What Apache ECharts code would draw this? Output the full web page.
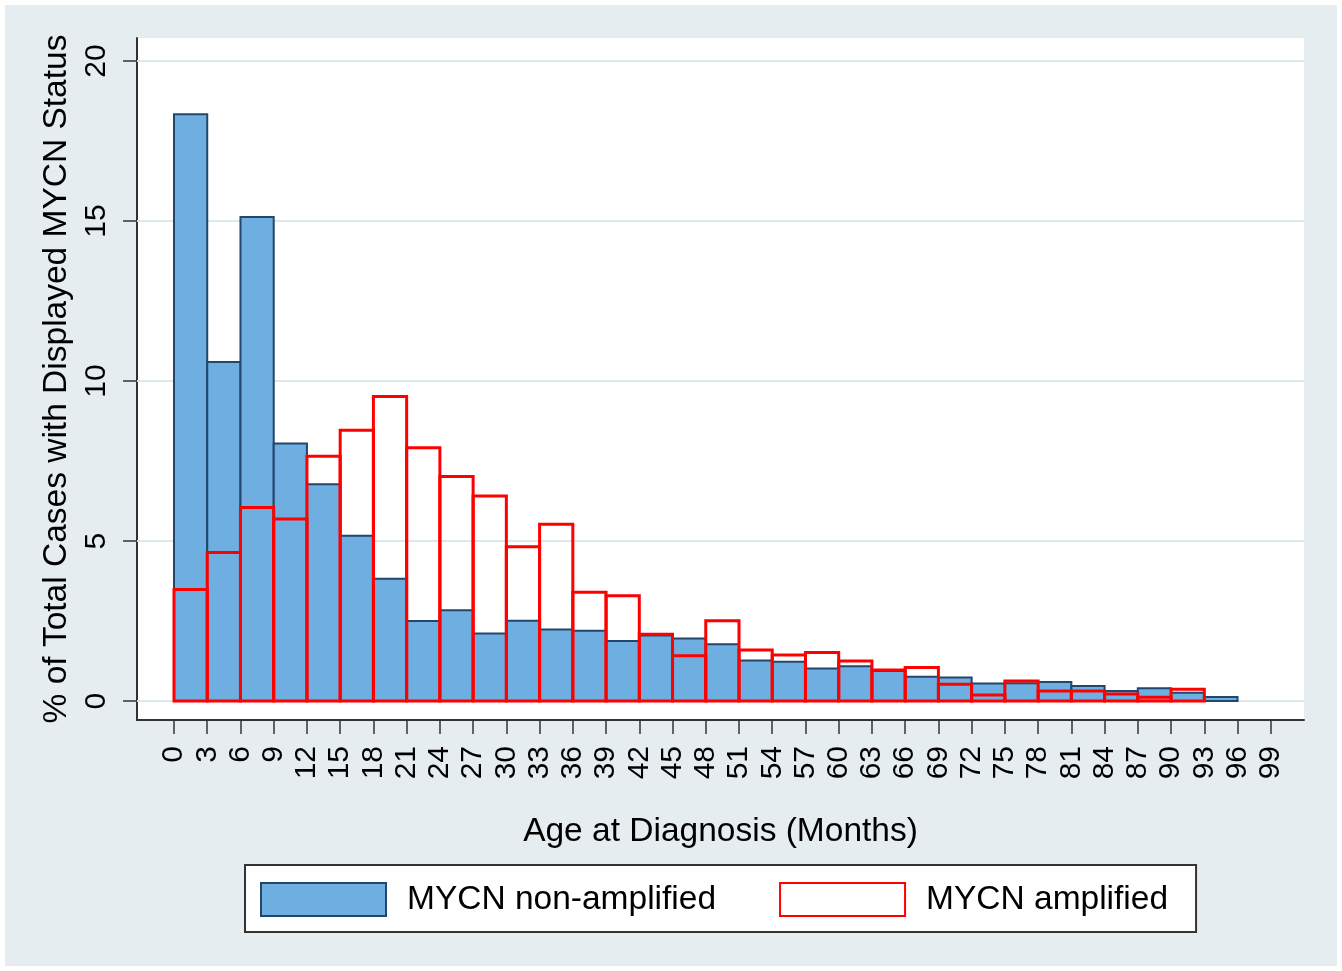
<!DOCTYPE html>
<html>
<head>
<meta charset="utf-8">
<style>
  html, body { margin: 0; padding: 0; background: #fff; }
  #main { width: 1342px; height: 971px; }
</style>
<script src="https://cdn.jsdelivr.net/npm/echarts@6.0.0/dist/echarts.min.js"></script>
</head>
<body>
<div id="main"></div>
<script>
// bin starts (months), each bin is 3 months wide
var binStarts = [0, 3, 6, 9, 12, 15, 18, 21, 24, 27, 30, 33, 36, 39, 42, 45,
  48, 51, 54, 57, 60, 63, 66, 69, 72, 75, 78, 81, 84, 87, 90, 93];
// % of cases, MYCN non-amplified
var nonAmplified = [18.34, 10.60, 15.13, 8.05, 6.78, 5.17, 3.82, 2.50, 2.84, 2.11, 2.51, 2.24,
  2.20, 1.88, 2.05, 1.96, 1.78, 1.27, 1.23, 1.02, 1.09, 0.94, 0.76, 0.74, 0.55, 0.56, 0.60,
  0.47, 0.32, 0.40, 0.26, 0.13];
// % of cases, MYCN amplified (no cases in the last bin)
var amplified = [3.49, 4.64, 6.05, 5.69, 7.65, 8.46, 9.52, 7.92, 7.02, 6.41, 4.82, 5.53,
  3.40, 3.29, 2.09, 1.42, 2.51, 1.60, 1.44, 1.52, 1.25, 0.97, 1.05, 0.53, 0.19, 0.63, 0.32,
  0.32, 0.22, 0.12, 0.37];
var xTicks = [0, 3, 6, 9, 12, 15, 18, 21, 24, 27, 30, 33, 36, 39, 42, 45, 48, 51, 54, 57,
  60, 63, 66, 69, 72, 75, 78, 81, 84, 87, 90, 93, 96, 99];
var yTicks = [0, 5, 10, 15, 20];
var binWidth = 3;

var font = 'Liberation Sans, Arial, Helvetica, sans-serif';
var bgColor = '#e5edf0';
var gridColor = '#dde8ee';

function toPairs(vals) {
  var out = [];
  for (var i = 0; i < vals.length; i++) {
    out.push([binStarts[i], vals[i]]);
  }
  return out;
}

// histogram bar: rectangle from [start, 0] to [start + width, value]
function barRenderer(style) {
  return function (params, api) {
    var x0 = api.value(0);
    var p0 = api.coord([x0, 0]);
    var p1 = api.coord([x0 + binWidth, api.value(1)]);
    return {
      type: 'rect',
      shape: { x: p0[0], y: p1[1], width: p1[0] - p0[0], height: p0[1] - p1[1] },
      style: style
    };
  };
}

var chart = echarts.init(document.getElementById('main'));

var option = {
  backgroundColor: '#fff',
  animation: false,
  // outer light blue-grey panel
  graphic: [{
    type: 'rect',
    z: -10,
    silent: true,
    shape: { x: 5, y: 5, width: 1332, height: 961 },
    style: { fill: bgColor }
  }],
  grid: {
    left: 137,
    right: 38,
    top: 38,
    bottom: 251,
    show: true,
    backgroundColor: '#fff',
    borderWidth: 0
  },
  legend: {
    left: 245,
    top: 865,
    orient: 'horizontal',
    backgroundColor: '#fff',
    borderColor: '#333',
    borderWidth: 2,
    borderRadius: 0,
    padding: [17, 28, 15, 15],
    itemWidth: 125,
    itemHeight: 33,
    itemGap: 63,
    textStyle: {
      fontFamily: font,
      fontSize: 33.5,
      color: '#000',
      lineHeight: 33,
      padding: [0, 0, 0, 16]
    },
    data: [
      { name: 'MYCN non-amplified', icon: 'rect',
        itemStyle: { color: '#6eaee0', borderColor: '#23476b', borderWidth: 2 } },
      { name: 'MYCN amplified', icon: 'rect',
        itemStyle: { color: '#fff', borderColor: '#ff0000', borderWidth: 2 } }
    ]
  },
  xAxis: {
    type: 'value',
    min: -3.34,
    max: 102,
    name: 'Age at Diagnosis (Months)',
    nameLocation: 'middle',
    nameGap: 95,
    nameTextStyle: { fontFamily: font, fontSize: 33.5, color: '#000' },
    axisLine: { show: true, onZero: false, lineStyle: { color: '#333', width: 2 } },
    axisTick: { show: true, customValues: xTicks, length: 14, lineStyle: { color: '#333', width: 1.5 } },
    axisLabel: {
      customValues: xTicks,
      rotate: 90,
      margin: 26,
      fontFamily: font,
      fontSize: 30,
      color: '#000'
    },
    splitLine: { show: false }
  },
  yAxis: {
    type: 'value',
    min: -0.59,
    max: 20.72,
    name: '% of Total Cases with Displayed MYCN Status',
    nameLocation: 'middle',
    nameRotate: 90,
    nameGap: 51,
    nameTextStyle: { fontFamily: font, fontSize: 33.5, color: '#000' },
    axisLine: { show: true, onZero: false, lineStyle: { color: '#333', width: 2 } },
    axisTick: { show: true, customValues: yTicks, length: 14, lineStyle: { color: '#333', width: 1.5 } },
    axisLabel: {
      customValues: yTicks,
      rotate: 90,
      margin: 25,
      fontFamily: font,
      fontSize: 30,
      color: '#000'
    },
    splitLine: { show: false }
  },
  series: [
    {
      // horizontal grid lines at the y ticks, kept under the bars
      name: 'grid',
      type: 'line',
      data: [],
      z: 1,
      silent: true,
      markLine: {
        z: 1,
        silent: true,
        symbol: 'none',
        label: { show: false },
        lineStyle: { color: gridColor, width: 2, type: 'solid' },
        data: yTicks.map(function (v) { return { yAxis: v }; })
      }
    },
    {
      name: 'MYCN non-amplified',
      type: 'custom',
      z: 2,
      renderItem: barRenderer({ fill: '#6eaee0', stroke: '#23476b', lineWidth: 2 }),
      encode: { x: 0, y: 1 },
      data: toPairs(nonAmplified)
    },
    {
      name: 'MYCN amplified',
      type: 'custom',
      z: 3,
      renderItem: barRenderer({ fill: null, stroke: '#ff0000', lineWidth: 3 }),
      encode: { x: 0, y: 1 },
      data: toPairs(amplified)
    }
  ]
};

chart.setOption(option);
</script>
</body>
</html>
